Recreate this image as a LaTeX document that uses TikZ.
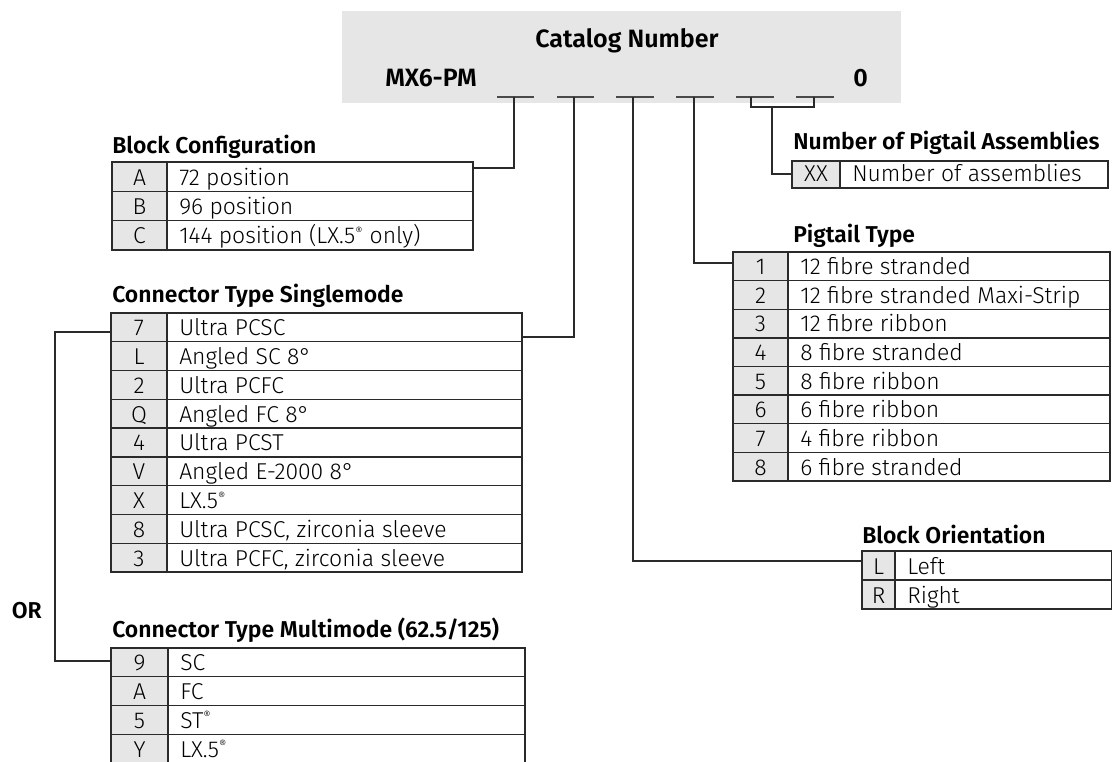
\documentclass[tikz,border=0pt]{standalone}
\usepackage{fontspec}
\setmainfont{Fira Sans Light}[BoldFont={Fira Sans SemiBold}]
\usetikzlibrary{calc}

\definecolor{panel}{HTML}{E6E6E6}
\definecolor{rule}{HTML}{2A2A2A}

\tikzset{
  frame/.style={draw=rule, line width=1pt},
  link/.style={draw=rule, line width=1pt},
  blank/.style={draw=rule!85, line width=1.1pt},
  heading/.style={font=\bfseries\fontsize{17.2}{19}\selectfont, inner sep=0pt, anchor=base west},
  bigheading/.style={font=\bfseries\fontsize{18.8}{21}\selectfont, inner sep=0pt, anchor=base west},
  codetxt/.style={font=\fontsize{17.2}{19}\selectfont, inner sep=0pt, anchor=base},
  desctxt/.style={font=\fontsize{17.2}{19}\selectfont, inner sep=0pt, anchor=base west},
}

% code table: #1 name, #2 left, #3 divider, #4 right, #5 top, #6 row height, #7 code/text rows
\newcommand\codetable[7]{%
  \foreach \c/\t [count=\i] in {#7} {
    \pgfmathsetmacro\ya{#5+(\i-1)*#6}
    \pgfmathsetmacro\yb{#5+\i*#6}
    \fill[panel] (#2,\ya) rectangle (#3,\yb);
    \draw[frame] (#2,\ya) rectangle (#4,\yb);
    \draw[frame] (#3,\ya) -- (#3,\yb);
    \node[codetxt] (#1-c\i) at ({(#2+#3)/2},\yb-6) {\c};
    \node[desctxt] (#1-t\i) at (#3+12,\yb-6) {\t};
  }
}

\newcommand\reg{\textsuperscript{\fontsize{8.5}{8.5}\selectfont ®}}

\begin{document}
\begin{tikzpicture}[x=0.75pt, y=-0.75pt]
\useasboundingbox (0,0) rectangle (1112,762);

% catalog number header
\fill[panel] (342,11) rectangle (901,103);
\node[bigheading, anchor=base] (title) at (627,48) {Catalog Number};
\node[bigheading] (prefix) at (385,87) {MX6-PM};
\node[bigheading] (suffix) at (853,87) {0};

% blanks of the catalog number
\foreach \a/\b [count=\k] in {497/534, 557/594, 616/654, 676/714, 736/774, 796/834} {
  \draw[blank] (\a,97) -- (\b,97);
}
\coordinate (s1) at (514,97);
\coordinate (s2) at (574,97);
\coordinate (s3) at (633,97);
\coordinate (s4) at (694,97);
\coordinate (s5) at (751,97);
\coordinate (s6) at (814,97);
\coordinate (brk) at (772,107);

% Block Configuration
\node[heading] (bc-title) at (112,154) {Block Configuration};
\codetable{bc}{112}{167}{473}{162}{29.33}{A/72 position, B/96 position, C/{144 position (LX.5\reg\ only)}}
\coordinate (bc-in) at (473,168);

% Connector Type Singlemode
\node[heading] (sm-title) at (112,303) {Connector Type Singlemode};
\codetable{sm}{111}{167}{522}{313}{28.78}{7/Ultra PCSC, L/Angled SC 8°, 2/Ultra PCFC, Q/Angled FC 8°, 4/Ultra PCST, V/Angled E-2000 8°, X/LX.5\reg, 8/{Ultra PCSC, zirconia sleeve}, 3/{Ultra PCFC, zirconia sleeve}}
\coordinate (sm-in) at (522,337);
\coordinate (sm-alt) at (111,332);

% OR
\node[heading, anchor=base east] (or) at (42,618) {OR};

% Connector Type Multimode
\node[heading] (mm-title) at (112,637) {Connector Type Multimode (62.5/125)};
\codetable{mm}{111}{168}{525}{648}{28.75}{9/SC, A/FC, 5/ST\reg, Y/LX.5\reg}
\coordinate (mm-in) at (111,661);
\coordinate (orline) at (55,0);

% Number of Pigtail Assemblies
\node[heading] (na-title) at (793,150) {Number of Pigtail Assemblies};
\codetable{na}{792}{840}{1108}{161}{27}{XX/Number of assemblies}
\coordinate (na-in) at (792,174);

% Pigtail Type
\node[heading] (pt-title) at (793,243) {Pigtail Type};
\codetable{pt}{733}{788}{1110}{252}{28.63}{1/12 fibre stranded, 2/12 fibre stranded Maxi-Strip, 3/12 fibre ribbon, 4/8 fibre stranded, 5/8 fibre ribbon, 6/6 fibre ribbon, 7/4 fibre ribbon, 8/6 fibre stranded}
\coordinate (pt-in) at (733,263);

% Block Orientation
\node[heading] (bo-title) at (862,543) {Block Orientation};
\codetable{bo}{862}{895}{1112}{551}{29}{L/Left, R/Right}
\coordinate (bo-in) at (862,561);

% connectors from the blanks to the tables
\draw[link] (s1) |- (bc-in);
\draw[link] (s2) |- (sm-in);
\draw[link] (s3) |- (bo-in);
\draw[link] (s4) |- (pt-in);
\draw[link] (s5) |- (brk) -| (s6);
\draw[link] (brk) |- (na-in);
\draw[link] (sm-alt) -| (orline |- mm-in) -- (mm-in);
\end{tikzpicture}
\end{document}
